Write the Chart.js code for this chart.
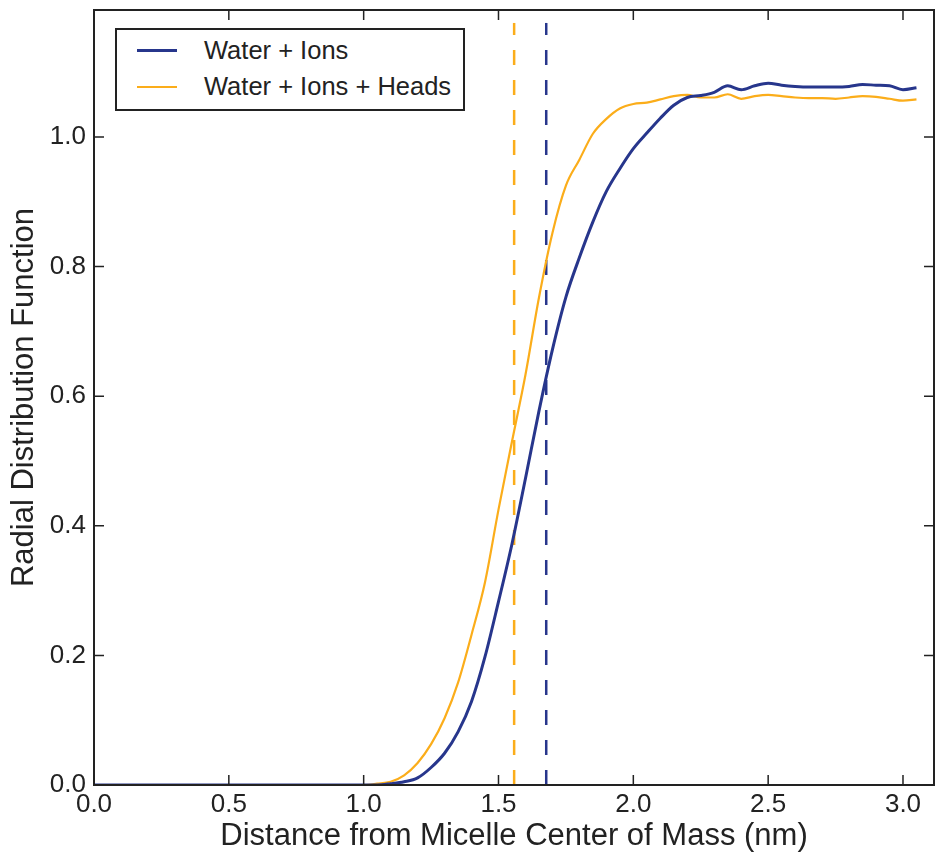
<!DOCTYPE html>
<html lang="en">
<head>
  <meta charset="UTF-8">
  <title>Radial Distribution Function</title>
  <script src="https://cdn.jsdelivr.net/npm/chart.js"></script>
  <style>
    body {
      margin: 0;
      background: #fff;
    }
    #wrap {
      position: relative;
      width: 935px;
      height: 858px;
    }
    #legend {
      position: absolute;
      left: 115px;
      top: 28px;
      width: 346px;
      height: 79px;
      border: 2px solid #222;
      background: #fff;
      font-family: "Liberation Sans", Arial, sans-serif;
      font-size: 25.5px;
      color: #222;
    }
    .item {
      position: absolute;
      left: 20px;
      display: flex;
      align-items: center;
    }
    .item span.swatch {
      display: inline-block;
      width: 40px;
      margin-right: 27px;
    }
  </style>
</head>
<body>
  <div id="wrap">
    <canvas id="rdfChart" width="935" height="858"></canvas>
    <div id="legend"></div>
  </div>
  <script>
    // distance grid (nm)
    const distance = [
      0.00, 0.05, 0.10, 0.15, 0.20, 0.25, 0.30, 0.35, 0.40, 0.45,
      0.50, 0.55, 0.60, 0.65, 0.70, 0.75, 0.80, 0.85, 0.90, 0.95,
      1.00, 1.05, 1.10, 1.15, 1.20, 1.25, 1.30, 1.35, 1.40, 1.45,
      1.50, 1.55, 1.60, 1.65, 1.70, 1.75, 1.80, 1.85, 1.90, 1.95,
      2.00, 2.05, 2.10, 2.15, 2.20, 2.25, 2.30, 2.35, 2.40, 2.45,
      2.50, 2.55, 2.60, 2.65, 2.70, 2.75, 2.80, 2.85, 2.90, 2.95,
      3.00, 3.05
    ];

    const waterIons = [
      0, 0, 0, 0, 0, 0, 0, 0, 0, 0,
      0, 0, 0, 0, 0, 0, 0, 0, 0, 0,
      0, 0, 0.002, 0.005, 0.011, 0.027, 0.049, 0.082, 0.129, 0.198,
      0.283, 0.372, 0.473, 0.577, 0.672, 0.753, 0.814, 0.869, 0.916, 0.951,
      0.982, 1.006, 1.029, 1.049, 1.061, 1.064, 1.069, 1.079, 1.073, 1.079,
      1.083, 1.080, 1.078, 1.077, 1.077, 1.077, 1.078, 1.081, 1.080, 1.079,
      1.073, 1.076
    ];

    const waterIonsHeads = [
      0, 0, 0, 0, 0, 0, 0, 0, 0, 0,
      0, 0, 0, 0, 0, 0, 0, 0, 0, 0,
      0, 0.002, 0.005, 0.015, 0.034, 0.063, 0.103, 0.158, 0.232, 0.313,
      0.425, 0.530, 0.633, 0.752, 0.852, 0.925, 0.965, 1.005, 1.028, 1.044,
      1.051, 1.053, 1.058, 1.063, 1.065, 1.061, 1.061, 1.066, 1.059, 1.063,
      1.065, 1.063, 1.061, 1.060, 1.060, 1.059, 1.061, 1.063, 1.062, 1.059,
      1.056, 1.058
    ];

    // dashed markers (nm)
    const cutHeads = 1.558;
    const cutIons = 1.677;
    const cutTop = 1.176;

    const xTicks = [0.0, 0.5, 1.0, 1.5, 2.0, 2.5, 3.0];
    const yTicks = [0.0, 0.2, 0.4, 0.6, 0.8, 1.0];

    const blue = '#27368c';
    const orange = '#fbad1a';
    const axisFont = '"Liberation Sans", Arial, sans-serif';

    const toPoints = (xs, ys) => xs.map((x, i) => ({ x: x, y: ys[i] }));

    const series = [
      { label: 'Water + Ions', data: toPoints(distance, waterIons), color: blue, width: 3 },
      { label: 'Water + Ions + Heads', data: toPoints(distance, waterIonsHeads), color: orange, width: 2.2 }
    ];

    // frame with inward ticks, like the original plot
    const framePlugin = {
      id: 'frame',
      afterDatasetsDraw(chart) {
        const { ctx, chartArea: a, scales } = chart;
        ctx.save();
        ctx.strokeStyle = '#222';
        ctx.lineWidth = 2;
        ctx.strokeRect(a.left, a.top, a.right - a.left, a.bottom - a.top);
        ctx.lineWidth = 1.5;
        ctx.beginPath();
        xTicks.forEach(v => {
          const px = scales.x.getPixelForValue(v);
          ctx.moveTo(px, a.bottom); ctx.lineTo(px, a.bottom - 10);
          ctx.moveTo(px, a.top); ctx.lineTo(px, a.top + 10);
        });
        yTicks.forEach(v => {
          const py = scales.y.getPixelForValue(v);
          ctx.moveTo(a.left, py); ctx.lineTo(a.left + 10, py);
          ctx.moveTo(a.right, py); ctx.lineTo(a.right - 10, py);
        });
        ctx.stroke();
        ctx.restore();
      }
    };

    const datasets = series.map(s => ({
      label: s.label,
      data: s.data,
      borderColor: s.color,
      borderWidth: s.width,
      pointRadius: 0,
      cubicInterpolationMode: 'monotone',
      fill: false
    }));
    datasets.push({
      label: 'cut heads',
      data: [{ x: cutHeads, y: 0 }, { x: cutHeads, y: cutTop }],
      borderColor: orange,
      borderWidth: 2.5,
      borderDash: [15, 15],
      pointRadius: 0
    });
    datasets.push({
      label: 'cut ions',
      data: [{ x: cutIons, y: 0 }, { x: cutIons, y: cutTop }],
      borderColor: blue,
      borderWidth: 2.5,
      borderDash: [15, 15],
      pointRadius: 0
    });

    new Chart(document.getElementById('rdfChart'), {
      type: 'line',
      data: { datasets: datasets },
      options: {
        responsive: false,
        animation: false,
        parsing: false,
        layout: { padding: { top: 10, right: 1, left: 0, bottom: 0 } },
        plugins: {
          legend: { display: false },
          tooltip: { enabled: false }
        },
        scales: {
          x: {
            type: 'linear',
            min: 0,
            max: 3.115,
            afterBuildTicks: scale => { scale.ticks = xTicks.map(v => ({ value: v })); },
            afterFit: scale => {
              scale.height = 73;
              scale.paddingLeft = 0;
              scale.paddingRight = 0;
            },
            grid: { display: false, drawTicks: false },
            border: { display: false },
            ticks: {
              padding: 4,
              color: '#222',
              font: { family: axisFont, size: 26 },
              maxRotation: 0,
              autoSkip: false,
              callback: v => v.toFixed(1)
            },
            title: {
              display: true,
              text: 'Distance from Micelle Center of Mass (nm)',
              color: '#222',
              font: { family: axisFont, size: 31 },
              padding: { top: 0, bottom: 3 }
            }
          },
          y: {
            type: 'linear',
            min: 0,
            max: 1.196,
            afterBuildTicks: scale => { scale.ticks = yTicks.map(v => ({ value: v })); },
            afterFit: scale => {
              scale.width = 94;
              scale.paddingTop = 0;
              scale.paddingBottom = 0;
            },
            grid: { display: false, drawTicks: false },
            border: { display: false },
            ticks: {
              padding: 8,
              color: '#222',
              font: { family: axisFont, size: 26 },
              autoSkip: false,
              callback: v => v.toFixed(1)
            },
            title: {
              display: true,
              text: 'Radial Distribution Function',
              color: '#222',
              font: { family: axisFont, size: 31 },
              padding: { top: 6, bottom: 0 }
            }
          }
        }
      },
      plugins: [framePlugin]
    });

    // legend box inside the plot
    const legend = document.getElementById('legend');
    series.forEach((s, i) => {
      const item = document.createElement('div');
      item.className = 'item';
      item.style.top = (6 + i * 36) + 'px';
      item.innerHTML = `<span class="swatch" style="border-top:${s.width}px solid ${s.color}"></span>${s.label}`;
      legend.appendChild(item);
    });
  </script>
</body>
</html>
